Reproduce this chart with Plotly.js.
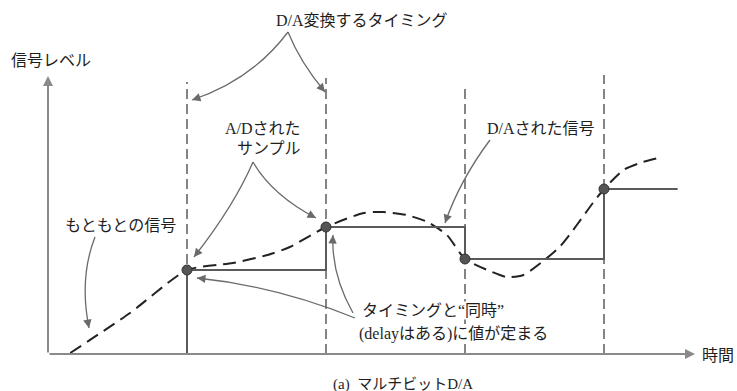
<!DOCTYPE html>
<html><head><meta charset="utf-8">
<script src="https://cdn.plot.ly/plotly-3.0.1.min.js"></script>
<style>html,body{margin:0;padding:0;background:#fff}</style>
</head><body>
<div id="chart" style="width:737px;height:391px"></div>
<script>
// sampling instants (D/A timing) and sampled values
const sampleTimes  = [1, 2, 3, 4];
const sampleLevels = [0.84, 1.27, 0.95, 1.65];
const holdEnd = 4.53;           // where the last held value stops
// original analog signal (dashed)
const sigT = [0.16, 0.59, 1.0, 1.33, 1.58, 1.74, 2.0, 2.27, 2.41, 2.58, 2.73, 2.87, 3.0, 3.16, 3.30, 3.42, 3.68, 3.92, 4.0, 4.14, 4.28, 4.42];
const sigL = [0.01, 0.41, 0.84, 0.91, 0.99, 1.07, 1.27, 1.41, 1.42, 1.39, 1.32, 1.19, 0.95, 0.84, 0.77, 0.79, 1.07, 1.51, 1.65, 1.84, 1.92, 1.97];
const timingTop = [2.72, 2.76, 2.69, 2.79];

// pixel -> data helpers for decoration placement
const X = px => (px - 48) / 139;
const Y = py => (354 - py) / 100;

const FONT = "'Liberation Serif', 'Noto Sans CJK JP', serif";
const TXT = "#1e1e1e";
const ARW = "#6a6a6a";

const stepX = [sampleTimes[0], ...sampleTimes, holdEnd];
const stepY = [0, ...sampleLevels, sampleLevels[sampleLevels.length - 1]];

const traces = [
  {x: sigT, y: sigL, mode: 'lines', line: {shape: 'spline', smoothing: 0.6, color: '#222', width: 2, dash: '13px,7px'}, hoverinfo: 'skip'},
  {x: stepX, y: stepY, mode: 'lines', line: {shape: 'hv', color: '#5a5a5a', width: 2}, hoverinfo: 'skip'},
  {x: sampleTimes, y: sampleLevels, mode: 'markers', marker: {size: 10, color: '#555', line: {color: '#333', width: 1}}, hoverinfo: 'skip'}
];

const shapes = sampleTimes.map((t, i) => ({
  type: 'line', xref: 'x', yref: 'y', x0: t, x1: t, y0: 0, y1: timingTop[i],
  line: {color: '#444', width: 1.3, dash: '10px,5px'}, layer: 'below'
}));

// curved pointer arrows [start, control, end] in pixels
const curves = [
  [[288, 32], [252, 80], [192, 100]],
  [[288, 32], [300, 62], [325, 92]],
  [[253, 162], [234, 206], [194, 257]],
  [[253, 162], [272, 195], [316, 218]],
  [[95, 237], [79, 278], [89, 328]],
  [[490, 140], [460, 180], [445, 223]],
  [[355, 318], [276, 286], [197, 278]],
  [[353, 313], [331, 274], [333, 235]]
];
const annotations = [];
curves.forEach(([p0, c, p2]) => {
  shapes.push({type: 'path', xref: 'x', yref: 'y',
    path: `M ${X(p0[0])},${Y(p0[1])} Q ${X(c[0])},${Y(c[1])} ${X(p2[0])},${Y(p2[1])}`,
    line: {color: ARW, width: 1.3}});
  const dx = c[0] - p2[0], dy = c[1] - p2[1], len = Math.hypot(dx, dy);
  annotations.push({x: X(p2[0]), y: Y(p2[1]), ax: dx / len * 9, ay: dy / len * 9, text: '',
    showarrow: true, arrowhead: 2, arrowsize: 1.3, arrowwidth: 1.3, arrowcolor: ARW, standoff: 0, startstandoff: 0});
});

// axes arrows
annotations.push({x: X(695), y: 0, ax: 0, ay: 0, axref: 'x', ayref: 'y', text: '', showarrow: true,
  arrowhead: 2, arrowsize: 1, arrowwidth: 2, arrowcolor: '#8a8a8a'});
annotations.push({x: 0, y: Y(76), ax: 0, ay: 0, axref: 'x', ayref: 'y', text: '', showarrow: true,
  arrowhead: 2, arrowsize: 1, arrowwidth: 2, arrowcolor: '#8a8a8a'});

const label = (text, px, py, opts = {}) => annotations.push(Object.assign({
  x: X(px), y: Y(py), text, showarrow: false, xanchor: 'center', yanchor: 'middle',
  font: {family: FONT, size: 16, color: TXT}
}, opts));

label('D/A変換するタイミング', 362, 20);
label('信号レベル', 51, 60);
label('A/Dされた', 303, 128, {xanchor: 'right'});
label('サンプル', 303, 148, {xanchor: 'right'});
label('D/Aされた信号', 541, 128);
label('もともとの信号', 120, 225);
label('タイミングと“同時”', 361, 310, {xanchor: 'left', bgcolor: '#fff', borderpad: 0});
label('(delayはある)に値が定まる', 358, 334, {xanchor: 'left', bgcolor: '#fff', borderpad: 0});
label('時間', 718, 355);
label('(a)  マルチビットD/A', 403, 384, {font: {family: FONT, size: 15, color: TXT}});

const layout = {
  width: 737, height: 391,
  margin: {l: 0, r: 0, t: 0, b: 0},
  paper_bgcolor: '#fff', plot_bgcolor: '#fff',
  showlegend: false,
  xaxis: {range: [X(0), X(737)], visible: false, fixedrange: true},
  yaxis: {range: [Y(391), Y(0)], visible: false, fixedrange: true},
  shapes, annotations
};

Plotly.newPlot('chart', traces, layout, {displayModeBar: false, staticPlot: true});
</script>
</body></html>
